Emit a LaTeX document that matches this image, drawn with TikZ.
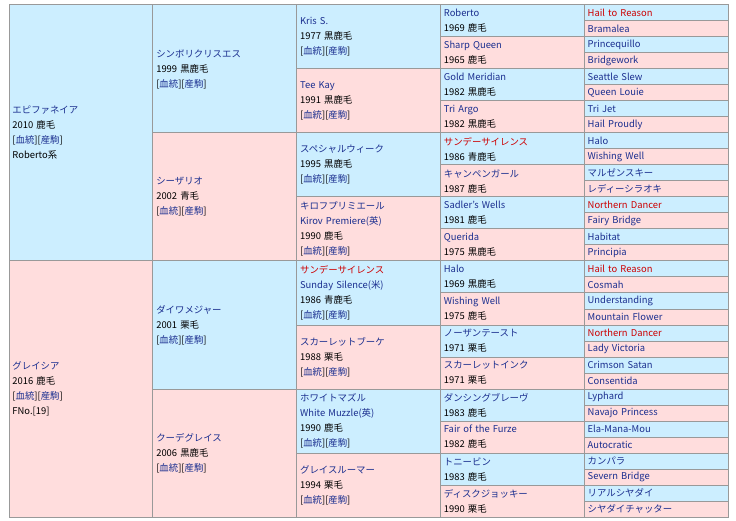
\documentclass[tikz,border=0pt]{standalone}
\usepackage{fontspec}
\setmainfont{Noto Sans CJK JP}
\usepackage{xcolor}
\usepackage{tikz}
\usetikzlibrary{positioning}
\definecolor{sireblue}{HTML}{CCEEFF}
\definecolor{dampink}{HTML}{FFDDDD}
\definecolor{linkblue}{HTML}{1A2E8F}
\definecolor{linkred}{HTML}{CC0000}
\definecolor{cellline}{HTML}{999999}
\tikzstyle{cell} = [rectangle, draw=cellline, line width=1pt, outer sep=0pt, inner xsep=3.5pt, inner ysep=0pt, text width=136.8pt, minimum width=143.8pt, align=left, font=\fontsize{9.4}{15}\selectfont]
\tikzstyle{sire} = [cell, fill=sireblue]
\tikzstyle{dam} = [cell, fill=dampink]
\tikzstyle{gen1} = [minimum height=256pt]
\tikzstyle{gen2} = [minimum height=128pt]
\tikzstyle{gen3} = [minimum height=64pt]
\tikzstyle{gen4} = [minimum height=32pt]
\tikzstyle{gen5} = [minimum height=16pt]
\newcommand{\hname}[1]{{\color{linkblue}#1}}
\newcommand{\rname}[1]{{\color{linkred}#1}}
\newcommand{\pedlinks}{[\hname{血統}][\hname{産駒}]}

\begin{document}
\begin{tikzpicture}[x=1pt, y=-1pt]
                \useasboundingbox (0,0) rectangle (736,521);
                % parents
                \node (s) [sire, gen1, anchor=north west] at (9,5) {\hname{エピファネイア}\\ 2010 鹿毛\\ \pedlinks\\ Roberto系};
                \node (d) [dam, gen1, below=0pt of s] {\hname{グレイシア}\\ 2016 鹿毛\\ \pedlinks\\ FNo.[19]};
                % grandparents
                \node (ss) [sire, gen2, anchor=north west] at (s.north east) {\hname{シンボリクリスエス}\\ 1999 黒鹿毛\\ \pedlinks};
                \node (sd) [dam, gen2, below=0pt of ss] {\hname{シーザリオ}\\ 2002 青毛\\ \pedlinks};
                \node (ds) [sire, gen2, below=0pt of sd] {\hname{ダイワメジャー}\\ 2001 栗毛\\ \pedlinks};
                \node (dd) [dam, gen2, below=0pt of ds] {\hname{クーデグレイス}\\ 2006 黒鹿毛\\ \pedlinks};
                % 3rd generation
                \node (sss) [sire, gen3, anchor=north west] at (ss.north east) {\hname{Kris S.}\\ 1977 黒鹿毛\\ \pedlinks};
                \node (ssd) [dam, gen3, below=0pt of sss] {\hname{Tee Kay}\\ 1991 黒鹿毛\\ \pedlinks};
                \node (sds) [sire, gen3, below=0pt of ssd] {\hname{スペシャルウィーク}\\ 1995 黒鹿毛\\ \pedlinks};
                \node (sdd) [dam, gen3, below=0pt of sds] {\hname{キロフプリミエール}\\ \hname{Kirov Premiere(英)}\\ 1990 鹿毛\\ \pedlinks};
                \node (dss) [sire, gen3, below=0pt of sdd] {\rname{サンデーサイレンス}\\ \hname{Sunday Silence(米)}\\ 1986 青鹿毛\\ \pedlinks};
                \node (dsd) [dam, gen3, below=0pt of dss] {\hname{スカーレットブーケ}\\ 1988 栗毛\\ \pedlinks};
                \node (dds) [sire, gen3, below=0pt of dsd] {\hname{ホワイトマズル}\\ \hname{White Muzzle(英)}\\ 1990 鹿毛\\ \pedlinks};
                \node (ddd) [dam, gen3, below=0pt of dds] {\hname{グレイスルーマー}\\ 1994 栗毛\\ \pedlinks};
                % 4th generation
                \node (ssss) [sire, gen4, anchor=north west] at (sss.north east) {\hname{Roberto}\\ 1969 鹿毛};
                \node (sssd) [dam, gen4, below=0pt of ssss] {\hname{Sharp Queen}\\ 1965 鹿毛};
                \node (ssds) [sire, gen4, below=0pt of sssd] {\hname{Gold Meridian}\\ 1982 黒鹿毛};
                \node (ssdd) [dam, gen4, below=0pt of ssds] {\hname{Tri Argo}\\ 1982 黒鹿毛};
                \node (sdss) [sire, gen4, below=0pt of ssdd] {\rname{サンデーサイレンス}\\ 1986 青鹿毛};
                \node (sdsd) [dam, gen4, below=0pt of sdss] {\hname{キャンペンガール}\\ 1987 鹿毛};
                \node (sdds) [sire, gen4, below=0pt of sdsd] {\hname{Sadler's Wells}\\ 1981 鹿毛};
                \node (sddd) [dam, gen4, below=0pt of sdds] {\hname{Querida}\\ 1975 黒鹿毛};
                \node (dsss) [sire, gen4, below=0pt of sddd] {\hname{Halo}\\ 1969 黒鹿毛};
                \node (dssd) [dam, gen4, below=0pt of dsss] {\hname{Wishing Well}\\ 1975 鹿毛};
                \node (dsds) [sire, gen4, below=0pt of dssd] {\hname{ノーザンテースト}\\ 1971 栗毛};
                \node (dsdd) [dam, gen4, below=0pt of dsds] {\hname{スカーレットインク}\\ 1971 栗毛};
                \node (ddss) [sire, gen4, below=0pt of dsdd] {\hname{ダンシングブレーヴ}\\ 1983 鹿毛};
                \node (ddsd) [dam, gen4, below=0pt of ddss] {\hname{Fair of the Furze}\\ 1982 鹿毛};
                \node (ddds) [sire, gen4, below=0pt of ddsd] {\hname{トニービン}\\ 1983 鹿毛};
                \node (dddd) [dam, gen4, below=0pt of ddds] {\hname{ディスクジョッキー}\\ 1990 栗毛};
                % 5th generation
                \node (sssss) [sire, gen5, anchor=north west] at (ssss.north east) {\rname{Hail to Reason}};
                \node (ssssd) [dam, gen5, below=0pt of sssss] {\hname{Bramalea}};
                \node (sssds) [sire, gen5, below=0pt of ssssd] {\hname{Princequillo}};
                \node (sssdd) [dam, gen5, below=0pt of sssds] {\hname{Bridgework}};
                \node (ssdss) [sire, gen5, below=0pt of sssdd] {\hname{Seattle Slew}};
                \node (ssdsd) [dam, gen5, below=0pt of ssdss] {\hname{Queen Louie}};
                \node (ssdds) [sire, gen5, below=0pt of ssdsd] {\hname{Tri Jet}};
                \node (ssddd) [dam, gen5, below=0pt of ssdds] {\hname{Hail Proudly}};
                \node (sdsss) [sire, gen5, below=0pt of ssddd] {\hname{Halo}};
                \node (sdssd) [dam, gen5, below=0pt of sdsss] {\hname{Wishing Well}};
                \node (sdsds) [sire, gen5, below=0pt of sdssd] {\hname{マルゼンスキー}};
                \node (sdsdd) [dam, gen5, below=0pt of sdsds] {\hname{レディーシラオキ}};
                \node (sddss) [sire, gen5, below=0pt of sdsdd] {\rname{Northern Dancer}};
                \node (sddsd) [dam, gen5, below=0pt of sddss] {\hname{Fairy Bridge}};
                \node (sddds) [sire, gen5, below=0pt of sddsd] {\hname{Habitat}};
                \node (sdddd) [dam, gen5, below=0pt of sddds] {\hname{Principia}};
                \node (dssss) [sire, gen5, below=0pt of sdddd] {\rname{Hail to Reason}};
                \node (dsssd) [dam, gen5, below=0pt of dssss] {\hname{Cosmah}};
                \node (dssds) [sire, gen5, below=0pt of dsssd] {\hname{Understanding}};
                \node (dssdd) [dam, gen5, below=0pt of dssds] {\hname{Mountain Flower}};
                \node (dsdss) [sire, gen5, below=0pt of dssdd] {\rname{Northern Dancer}};
                \node (dsdsd) [dam, gen5, below=0pt of dsdss] {\hname{Lady Victoria}};
                \node (dsdds) [sire, gen5, below=0pt of dsdsd] {\hname{Crimson Satan}};
                \node (dsddd) [dam, gen5, below=0pt of dsdds] {\hname{Consentida}};
                \node (ddsss) [sire, gen5, below=0pt of dsddd] {\hname{Lyphard}};
                \node (ddssd) [dam, gen5, below=0pt of ddsss] {\hname{Navajo Princess}};
                \node (ddsds) [sire, gen5, below=0pt of ddssd] {\hname{Ela-Mana-Mou}};
                \node (ddsdd) [dam, gen5, below=0pt of ddsds] {\hname{Autocratic}};
                \node (dddss) [sire, gen5, below=0pt of ddsdd] {\hname{カンパラ}};
                \node (dddsd) [dam, gen5, below=0pt of dddss] {\hname{Severn Bridge}};
                \node (dddds) [sire, gen5, below=0pt of dddsd] {\hname{リアルシヤダイ}};
                \node (ddddd) [dam, gen5, below=0pt of dddds] {\hname{シヤダイチャッター}};
            \end{tikzpicture}
\end{document}
